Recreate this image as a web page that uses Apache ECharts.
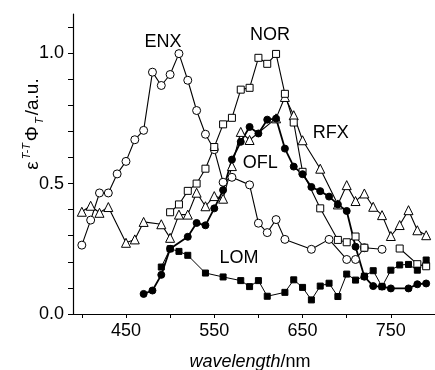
<!DOCTYPE html>
<html>
<head>
<meta charset="utf-8">
<script src="https://cdn.jsdelivr.net/npm/echarts@6/dist/echarts.min.js"></script>
<style>
html,body{margin:0;padding:0;background:#fff;}
#c{width:435px;height:370px;}
</style>
</head>
<body>
<div id="c"></div>
<script>
// ---- data ----
const wlENX = [400,410,420,430,440,450,460,470,480,490,500,510,520,530,540,550,560,570,590,600,610,620,630,660,680,700,710,720,740];
const ENX   = [0.264,0.36,0.464,0.464,0.537,0.585,0.668,0.704,0.927,0.876,0.918,0.998,0.896,0.780,0.689,0.63,0.505,0.524,0.495,0.348,0.312,0.362,0.286,0.248,0.286,0.209,0.209,0.254,0.248];

const wlNOR = [500,510,520,530,540,550,560,570,580,590,600,610,620,630,640,650,670,690,700,710,720,740,760,780,790];
const NOR   = [0.39,0.42,0.472,0.50,0.557,0.64,0.727,0.752,0.86,0.867,0.982,0.959,0.997,0.844,0.734,0.545,0.405,0.284,0.275,0.297,0.254,null,0.251,0.191,0.183];

const wlRFX = [400,410,420,430,450,460,470,490,500,510,520,530,540,550,560,570,580,590,620,630,640,650,670,690,700,710,720,730,740,750,760,770,780,790];
const RFX   = [0.392,0.415,0.388,0.41,0.273,0.286,0.353,0.344,0.292,0.381,0.381,0.465,0.413,0.452,0.442,0.567,0.698,0.667,0.75,0.832,0.762,0.666,0.557,0.42,0.494,0.433,0.462,0.411,0.379,0.299,0.341,0.398,0.321,0.302];

const wlOFL = [470,480,490,500,520,530,540,550,560,570,580,590,600,610,620,630,640,650,660,670,680,690,700,710,720,730,740,750,770,780,790];
const OFL   = [0.077,0.09,0.15,0.25,0.296,0.349,0.34,0.405,0.475,0.592,0.66,0.717,0.692,0.745,0.749,0.634,0.565,0.536,0.487,0.471,0.45,0.42,0.395,0.258,0.143,0.107,0.105,0.098,0.098,0.114,0.117];

const wlLOM = [490,500,510,520,540,560,580,590,600,610,630,640,650,660,670,680,690,700,710,720,730,740,750,760,770,780,790];
const LOM   = [0.18,0.25,0.24,0.225,0.157,0.142,0.128,0.105,0.128,0.068,0.083,0.131,0.102,0.054,0.107,0.118,0.067,0.153,0.13,0.145,0.166,0.105,0.168,0.188,0.19,0.168,0.207];

const labelNames = ['ENX','NOR','RFX','OFL','LOM'];
const labelX     = [492, 613, 682, 602, 578];
const labelY     = [1.042, 1.068, 0.692, 0.58, 0.213];

const xTicks      = [400,450,500,550,600,650,700,750,800];
const xTickLabels = [450,550,650,750];
const yTicks      = [0,0.1,0.2,0.3,0.4,0.5,0.6,0.7,0.8,0.9,1.0,1.1];
const yTickLabels = [0,0.5,1.0];

// ---- chart ----
const FONT = '"Liberation Sans", Arial, Helvetica, sans-serif';
const INK = '#000';
const pairs = (xs, ys) => xs.map((x, i) => [x, ys[i]]);

function lineSeries(name, xs, ys, symbol, size, fill, lw) {
  return {
    name, type: 'line', data: pairs(xs, ys),
    symbol, symbolSize: size, showAllSymbol: true, connectNulls: false,
    lineStyle: {color: INK, width: lw},
    itemStyle: {color: fill, borderColor: INK, borderWidth: 1, opacity: 1},
    emphasis: {disabled: true},
    animation: false, clip: false, z: 2
  };
}

const chart = echarts.init(document.getElementById('c'), null, {renderer: 'canvas'});
chart.setOption({
  backgroundColor: '#fff',
  animation: false,
  grid: {left: 73, top: 14, width: 371, height: 300, containLabel: false},
  xAxis: {
    type: 'value', min: 390, max: 800,
    axisLine: {show: true, lineStyle: {color: INK, width: 1.2}},
    axisTick: {show: true, inside: false, length: 4, customValues: xTicks, lineStyle: {color: INK}},
    axisLabel: {customValues: xTickLabels, fontFamily: FONT, fontSize: 18, color: INK, margin: 8},
    splitLine: {show: false}
  },
  yAxis: {
    type: 'value', min: 0, max: 1.15,
    axisLine: {show: true, lineStyle: {color: INK, width: 1.2}},
    axisTick: {show: true, inside: false, length: 5, customValues: yTicks, lineStyle: {color: INK}},
    axisLabel: {customValues: yTickLabels, fontFamily: FONT, fontSize: 18, color: INK, margin: 9,
      formatter: v => v.toFixed(1)},
    splitLine: {show: false}
  },
  graphic: [
    {
      type: 'text', x: 250, y: 362,
      style: {
        text: '{i|wavelength}{n|/nm}',
        align: 'center', verticalAlign: 'middle',
        rich: {
          i: {fontFamily: FONT, fontSize: 18, fontStyle: 'italic', fill: INK},
          n: {fontFamily: FONT, fontSize: 18, fill: INK}
        }
      }
    },
    {
      type: 'text', x: 33, y: 124, rotation: Math.PI / 2,
      style: {
        text: '{e|ε}{sup|T-T}{p|Φ}{sub|T}{n|/a.u.}',
        align: 'center', verticalAlign: 'middle',
        rich: {
          e:   {fontFamily: FONT, fontSize: 19, fill: INK, lineHeight: 24, verticalAlign: 'middle'},
          sup: {fontFamily: FONT, fontSize: 11, fontStyle: 'italic', fill: INK, lineHeight: 12, verticalAlign: 'top', padding: [0, 2, 0, 2]},
          p:   {fontFamily: FONT, fontSize: 19, fill: INK, lineHeight: 24, verticalAlign: 'middle'},
          sub: {fontFamily: FONT, fontSize: 11, fontStyle: 'italic', fill: INK, lineHeight: 12, verticalAlign: 'bottom', padding: [0, 2, 0, 2]},
          n:   {fontFamily: FONT, fontSize: 19, fill: INK, lineHeight: 24, verticalAlign: 'middle'}
        }
      }
    }
  ],
  series: [
    lineSeries('ENX', wlENX, ENX, 'circle', 8, '#fff', 1.1),
    lineSeries('RFX', wlRFX, RFX, 'triangle', 9, '#fff', 1.1),
    lineSeries('NOR', wlNOR, NOR, 'rect', 7, '#fff', 1.1),
    lineSeries('LOM', wlLOM, LOM, 'rect', 6, INK, 1.0),
    lineSeries('OFL', wlOFL, OFL, 'circle', 7, INK, 1.8),
    {
      name: 'labels', type: 'scatter', symbolSize: 0, silent: true, z: 5,
      itemStyle: {opacity: 1},
      data: labelNames.map((n, i) => ({name: n, value: [labelX[i], labelY[i]]})),
      label: {show: true, position: 'inside', formatter: p => p.name, opacity: 1,
        fontFamily: FONT, fontSize: 18, color: INK},
      emphasis: {disabled: true}, animation: false
    }
  ]
});
</script>
</body>
</html>
